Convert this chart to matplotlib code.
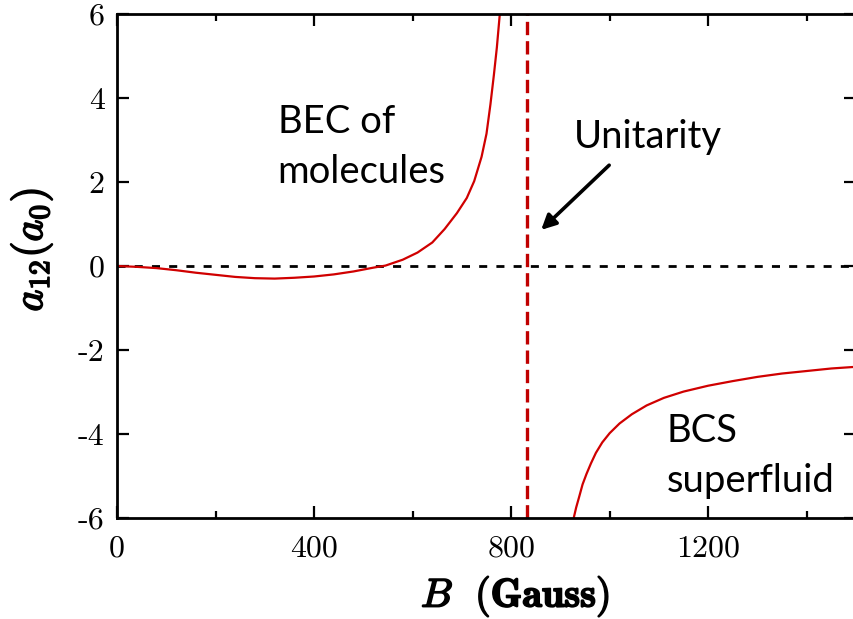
import matplotlib
matplotlib.use("Agg")
import matplotlib.pyplot as plt
import matplotlib.patheffects as pe
from matplotlib.ticker import MultipleLocator

plt.rcParams['mathtext.fontset'] = 'cm'

# scattering length a12 (in 1000 a0) vs field B (Gauss), two branches around the resonance
bec_B = [0, 40, 80, 120, 160, 200, 240, 280, 320, 360, 400, 440, 480, 520, 545,
         580, 610, 640, 665, 690, 710, 725, 740, 750, 758, 765, 771, 774, 777]
bec_a = [0, -0.02, -0.05, -0.10, -0.16, -0.21, -0.26, -0.29, -0.30, -0.28, -0.25,
         -0.20, -0.13, -0.04, 0.01, 0.15, 0.32, 0.56, 0.88, 1.26, 1.62, 2.02, 2.60,
         3.15, 3.85, 4.55, 5.20, 5.60, 6.0]

bcs_B = [927, 932, 938, 945, 953, 962, 972, 985, 1000, 1020, 1045, 1075, 1110,
         1150, 1200, 1250, 1300, 1350, 1400, 1450, 1500]
bcs_a = [-6.0, -5.75, -5.5, -5.2, -4.95, -4.7, -4.45, -4.2, -3.98, -3.75, -3.53,
         -3.32, -3.14, -2.99, -2.85, -2.74, -2.64, -2.56, -2.50, -2.44, -2.40]

B_res = 833
xticks = [0, 400, 800, 1200]
yticks = [-6, -4, -2, 0, 2, 4, 6]

fig = plt.figure(figsize=(8.54, 6.19), dpi=100)
ax = fig.add_axes([117 / 854, 101 / 619, 739 / 854, 504 / 619])

ax.axhline(0, color='black', lw=2, dashes=(2.9, 3.3))
ax.axvline(B_res, color='#C00000', lw=2.4, dashes=(4, 1.8))
ax.plot(bec_B, bec_a, color='#D00000', lw=1.6)
ax.plot(bcs_B, bcs_a, color='#D00000', lw=1.6)

ax.set_xlim(0, 1500)
ax.set_ylim(-6, 6)

ax.set_xticks(xticks)
ax.set_xticklabels([str(t) for t in xticks], fontfamily='cmr10', fontsize=23)
ax.xaxis.set_minor_locator(MultipleLocator(200))
ax.set_yticks(yticks)
ax.set_yticklabels([str(t) for t in yticks], fontfamily='cmr10', fontsize=23)

ax.tick_params(which='both', direction='in', top=True, right=True, width=1.6)
ax.tick_params(which='major', length=8.5)
ax.tick_params(axis='x', which='major', pad=12)
ax.tick_params(axis='y', which='major', pad=9)
ax.tick_params(which='minor', length=5)
for s in ax.spines.values():
    s.set_linewidth(2)

bold = [pe.withStroke(linewidth=1.2, foreground='black')]
ax.set_xlabel(r'$B\ \ \mathbf{(Gauss)}$', fontsize=29, path_effects=bold)
ax.xaxis.set_label_coords(0.539, -0.112)
ax.set_ylabel(r'$a_{12}(a_0)$', fontsize=30, path_effects=bold)
ax.yaxis.set_label_coords(-0.084, 0.532)

lbl = dict(fontfamily='Lato', fontsize=27.5, va='baseline', linespacing=1.47)
ax.text(326, 1.976, 'BEC of\nmolecules', **lbl)
ax.text(1115, -5.38, 'BCS\nsuperfluid', **lbl)
ax.text(928, 2.81, 'Unitarity', **lbl)

ax.annotate('', xy=(861, 0.86), xytext=(999, 2.4),
            arrowprops=dict(arrowstyle='-|>', color='black', lw=2.6, mutation_scale=22,
                            shrinkA=0, shrinkB=0))

fig.savefig('out.png', dpi=100)
